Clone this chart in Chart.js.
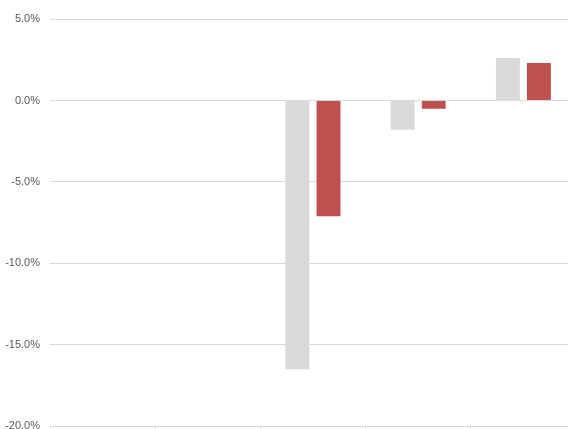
<!DOCTYPE html>
<html>
<head>
<meta charset="utf-8">
<script src="https://cdn.jsdelivr.net/npm/chart.js@4"></script>
<style>
  html, body { margin: 0; padding: 0; background: #fff; }
  body { width: 568px; height: 429px; overflow: hidden; }
  #wrap { width: 576px; height: 443px; position: relative; }
</style>
</head>
<body>
<div id="wrap"><canvas id="chart"></canvas></div>
<script>
// categories are not labelled in the picture, so they stay hidden
const categories = ['A', 'B', 'C', 'D', 'E'];
const seriesGrey = [null, null, -16.5, -1.8, 2.6];
const seriesRed = [null, null, -7.1, -0.5, 2.3];
const yTicks = [5, 0, -5, -10, -15, -20];

new Chart(document.getElementById('chart'), {
  type: 'bar',
  data: {
    labels: categories,
    datasets: [
      { label: 'Series 1', data: seriesGrey, backgroundColor: '#d9d9d9', categoryPercentage: 0.59, barPercentage: 0.77 },
      { label: 'Series 2', data: seriesRed, backgroundColor: '#c0504d', categoryPercentage: 0.59, barPercentage: 0.77 }
    ]
  },
  options: {
    responsive: true,
    maintainAspectRatio: false,
    animation: false,
    layout: { padding: { top: 19, right: 0, bottom: 0, left: 0 } },
    plugins: { legend: { display: false }, tooltip: { enabled: false } },
    scales: {
      x: {
        grid: { display: true, drawOnChartArea: false, drawTicks: true, tickLength: 5, color: '#d9d9d9', offset: true },
        border: { display: true, color: '#d9d9d9' },
        ticks: { display: false },
        afterFit: s => { s.height = 4; }
      },
      y: {
        min: -20,
        max: 5,
        afterBuildTicks: s => { s.ticks = yTicks.map(v => ({ value: v })); },
        grid: { color: '#d9d9d9', drawTicks: false },
        border: { display: false },
        ticks: {
          color: '#595959',
          padding: 10,
          font: { family: '"Liberation Sans Narrow", "Arial Narrow", sans-serif', size: 11 },
          callback: v => v.toFixed(1) + '%'
        },
        afterFit: s => { s.width = 50; }
      }
    }
  }
});
</script>
</body>
</html>
